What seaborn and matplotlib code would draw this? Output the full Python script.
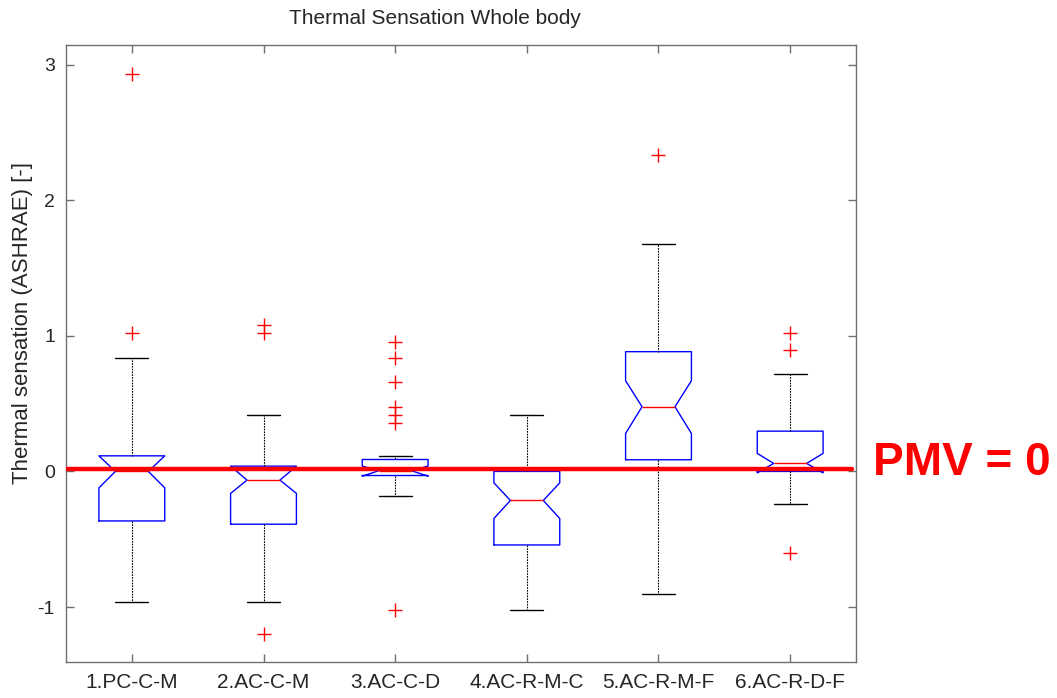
"""
Notched boxplot of whole-body thermal sensation per test condition,
with the PMV = 0 reference line.
"""

import matplotlib
matplotlib.use("Agg")
import matplotlib.pyplot as plt
import pandas as pd
import seaborn as sns

# ---------------------------------------------------------------------------
# Data
# ---------------------------------------------------------------------------

conditions = ["1.PC-C-M", "2.AC-C-M", "3.AC-C-D", "4.AC-R-M-C", "5.AC-R-M-F", "6.AC-R-D-F"]
medians = [0.00, -0.064, 0.005, -0.214, 0.477, 0.059]
q1 = [-0.365, -0.389, -0.030, -0.542, 0.086, 0.000]
q3 = [0.115, 0.039, 0.088, 0.000, 0.883, 0.297]
whisker_low = [-0.962, -0.962, -0.180, -1.018, -0.903, -0.241]
whisker_high = [0.838, 0.415, 0.115, 0.415, 1.675, 0.716]
notch_low = [-0.121, -0.162, -0.035, -0.347, 0.280, -0.010]
notch_high = [0.115, 0.039, 0.040, -0.084, 0.669, 0.133]
outliers = [
    [1.018, 2.932],
    [1.018, 1.077, -1.201],
    [0.957, 0.838, 0.657, 0.477, 0.415, 0.354, -1.018],
    [],
    [2.334],
    [1.018, 0.895, -0.605],
]
pmv_level = 0.015

# ---------------------------------------------------------------------------
# Style
# ---------------------------------------------------------------------------

sns.set_style("white")
plt.rcParams.update({
    "font.family": ["Liberation Sans", "DejaVu Sans"],
    "axes.unicode_minus": False,
    "axes.edgecolor": "#707070",
    "axes.linewidth": 1.0,
})

positions = list(range(1, len(conditions) + 1))
stats = [
    {
        "label": name, "med": m, "q1": lo, "q3": hi,
        "whislo": wl, "whishi": wh, "cilo": cl, "cihi": ch, "fliers": [],
    }
    for name, m, lo, hi, wl, wh, cl, ch in zip(
        conditions, medians, q1, q3, whisker_low, whisker_high, notch_low, notch_high
    )
]

flier_df = pd.DataFrame({
    "pos": [p for p, vals in zip(positions, outliers) for _ in vals],
    "value": [v for vals in outliers for v in vals],
})

# ---------------------------------------------------------------------------
# Plot
# ---------------------------------------------------------------------------

fig = plt.figure(figsize=(10.57, 6.98), dpi=100)
ax = fig.add_axes([66 / 1057, 36 / 698, 790 / 1057, 617 / 698])

ax.bxp(
    stats,
    positions=positions,
    widths=0.5,
    shownotches=True,
    showfliers=False,
    boxprops={"color": "blue", "linewidth": 1.0},
    medianprops={"color": "red", "linewidth": 1.0},
    whiskerprops={"color": "black", "linewidth": 0.8, "linestyle": (0, (1.5, 1))},
    capprops={"color": "black", "linewidth": 1.0},
    manage_ticks=False,
)

sns.scatterplot(
    data=flier_df, x="pos", y="value", ax=ax,
    marker="+", color="red", s=90, linewidth=1.0, zorder=4, legend=False,
)

ax.axhline(pmv_level, xmax=0.995, color="red", linewidth=3.2, zorder=5)

ax.set_xlim(0.5, 6.5)
ax.set_ylim(-1.405, 3.144)
ax.set_xticks(positions)
ax.set_xticklabels(conditions, fontsize=15)
ax.set_yticks([-1, 0, 1, 2, 3])
ax.set_yticklabels(["-1", "0", "1", "2", "3"], fontsize=14)
ax.tick_params(direction="in", length=6, width=1, color="#707070",
               top=True, right=True, bottom=True, left=True, pad=8)
ax.set_xlabel("")
ax.set_ylabel("Thermal sensation (ASHRAE) [-]", fontsize=16)
ax.yaxis.set_label_coords(-0.042, 0.55)

fig.text(435 / 1057, 1 - 18 / 698, "Thermal Sensation Whole body",
         fontsize=15, ha="center", va="center")
fig.text(873 / 1057, 1 - 463 / 698, "PMV = 0", fontsize=33,
         fontweight="bold", color="red", ha="left", va="center")

fig.savefig("out.png", dpi=100)
